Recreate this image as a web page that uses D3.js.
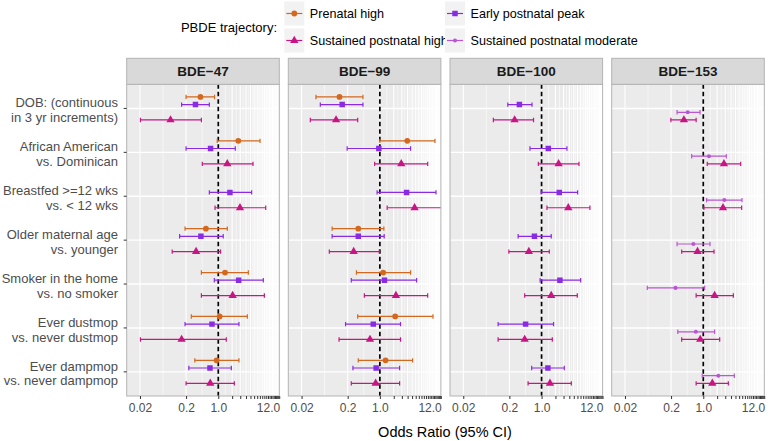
<!DOCTYPE html>
<html><head><meta charset="utf-8">
<script src="https://cdn.jsdelivr.net/npm/d3@7"></script>
<style>body{margin:0;background:#fff}svg{display:block;font-family:"Liberation Sans",Arial,sans-serif}</style>
</head><body><svg id="c" width="768" height="441"></svg>
<script>
const categories = [
  ["DOB: (continuous","in 3 yr increments)"],
  ["African American","vs. Dominican"],
  ["Breastfed >=12 wks","vs. < 12 wks"],
  ["Older maternal age","vs. younger"],
  ["Smoker in the home","vs. no smoker"],
  ["Ever dustmop","vs. never dustmop"],
  ["Ever dampmop","vs. never dampmop"]
];
const panels = ["BDE\u221247","BDE\u221299","BDE\u2212100","BDE\u2212153"];
const seriesNames = ["Prenatal high","Early postnatal peak","Sustained postnatal high","Sustained postnatal moderate"];
const seriesColors = ["#D2691E","#8A2BE2","#C71585","#BA55D3"];
const xBreaks = [0.02,0.2,1,2,3,4,5,6,7,8,9,10,11,12,13,14,15,16,17,18,19,20,21];
const xLabels = {"0.02":"0.02","0.2":"0.2","1":"1.0","12":"12.0"};

// [OR, lower, upper] per category
const bde47_prenatal = [[0.41,0.20,0.83],[2.72,0.95,8.05],null,[0.54,0.19,1.57],[1.40,0.43,4.49],[1.07,0.26,4.27],[0.92,0.31,2.81]];
const bde47_early    = [[0.32,0.16,0.64],[0.68,0.20,2.34],[1.79,0.64,5.3],[0.42,0.145,1.28],[2.77,0.82,9.5],[0.73,0.19,2.81],[0.66,0.23,1.92]];
const bde47_high     = [[0.092,0.0205,0.43],[1.57,0.45,5.67],[2.96,0.85,10.7],[0.33,0.10,1.12],[2.05,0.43,10.0],[0.16,0.0205,1.49],[0.67,0.20,2.23]];
const bde99_prenatal = [[0.133,0.041,0.43],[3.93,1.0,15.7],null,[0.34,0.092,1.22],[1.18,0.31,4.64],[2.15,0.33,14.2],[1.33,0.34,5.13]];
const bde99_early    = [[0.152,0.051,0.43],[0.95,0.195,4.64],[3.8,0.87,16.5],[0.34,0.092,1.24],[1.26,0.24,6.27],[0.72,0.18,2.81],[0.83,0.26,2.68]];
const bde99_high     = [[0.112,0.031,0.33],[2.91,0.77,10.9],[5.67,1.44,25],[0.27,0.08,0.97],[2.23,0.46,10.9],[0.61,0.13,2.81],[0.81,0.24,2.68]];
const bde100_early   = [[0.33,0.185,0.62],[1.40,0.56,3.55],[2.42,0.98,6.06],[0.70,0.31,1.62],[2.5,0.93,7.05],[0.45,0.114,1.82],[1.37,0.61,3.11]];
const bde100_high    = [[0.26,0.09,0.67],[2.34,0.85,6.48],[3.8,1.31,11.2],[0.53,0.195,1.47],[1.62,0.43,5.96],[0.43,0.114,1.71],[1.52,0.51,4.42]];
const bde153_moderate= [[0.46,0.27,0.85],[1.33,0.56,3.16],[2.86,1.18,6.93],[0.61,0.27,1.40],[0.25,0.061,1.07],[0.69,0.28,1.76],[2.12,0.95,4.72]];
const bde153_high    = [[0.38,0.198,0.70],[2.81,1.22,6.48],[2.68,1.03,6.81],[0.75,0.34,1.71],[1.76,0.70,4.49],[0.86,0.34,2.27],[1.57,0.70,3.5]];

const panelData = [
  [[0,bde47_prenatal],[1,bde47_early],[2,bde47_high]],
  [[0,bde99_prenatal],[1,bde99_early],[2,bde99_high]],
  [[1,bde100_early],[2,bde100_high]],
  [[3,bde153_moderate],[2,bde153_high]]
];

const svg = d3.select("#c");
const panelX = [126.7,288.3,450,611.7], panelW = 152.6;
const pTop = 84.3, pBottom = 396, stripTop = 58.3;
const y = d3.scalePoint().domain(d3.range(categories.length)).range([pTop,pBottom]).padding(0.55);
const x = d3.scaleLog().domain([0.0103,21.1]).range([0,panelW]);
const dodge = d3.scalePoint().domain([0,1,3,2]).range([-11.5,11.5]);
const symbols = [d3.symbol(d3.symbolCircle,26), d3.symbol(d3.symbolSquare,30), d3.symbol(d3.symbolTriangle,30), d3.symbol(d3.symbolCircle,13)];

const minor = [];
for (let i=0;i<xBreaks.length-1;i++) minor.push(Math.sqrt(xBreaks[i]*xBreaks[i+1]));

const defs = svg.append("defs");
panels.forEach((p,pi)=>{
  const g = svg.append("g").attr("transform",`translate(${panelX[pi]},0)`);
  defs.append("clipPath").attr("id","clip"+pi).append("rect").attr("x",0).attr("y",pTop).attr("width",panelW).attr("height",pBottom-pTop);
  g.append("rect").attr("x",0).attr("y",pTop).attr("width",panelW).attr("height",pBottom-pTop).attr("fill","#ebebeb");
  const cg = g.append("g").attr("clip-path",`url(#clip${pi})`);
  cg.selectAll(".mn").data(minor.filter(v=>v>x.domain()[0]&&v<x.domain()[1])).enter().append("line")
    .attr("x1",d=>x(d)).attr("x2",d=>x(d)).attr("y1",pTop).attr("y2",pBottom).attr("stroke","#fff").attr("stroke-width",0.55);
  cg.selectAll(".mj").data(xBreaks).enter().append("line")
    .attr("x1",d=>x(d)).attr("x2",d=>x(d)).attr("y1",pTop).attr("y2",pBottom).attr("stroke","#fff").attr("stroke-width",1.1);
  cg.selectAll(".hy").data(d3.range(categories.length)).enter().append("line")
    .attr("x1",0).attr("x2",panelW).attr("y1",d=>y(d)).attr("y2",d=>y(d)).attr("stroke","#fff").attr("stroke-width",1.4);
  cg.append("line").attr("x1",x(1)).attr("x2",x(1)).attr("y1",pTop).attr("y2",pBottom)
    .attr("stroke","#000").attr("stroke-width",1.7).attr("stroke-dasharray","4.5,3");
  panelData[pi].forEach(([si,arr])=>{
    const col = seriesColors[si];
    arr.forEach((d,ci)=>{
      if(!d) return;
      const yy = y(ci)+dodge(si);
      cg.append("line").attr("x1",x(d[1])).attr("x2",x(d[2])).attr("y1",yy).attr("y2",yy).attr("stroke",col).attr("stroke-width",1.2);
      [d[1],d[2]].forEach(v=>cg.append("line").attr("x1",x(v)).attr("x2",x(v)).attr("y1",yy-2.2).attr("y2",yy+2.2).attr("stroke",col).attr("stroke-width",1.2));
      cg.append("path").attr("d",symbols[si]()).attr("transform",`translate(${x(d[0])},${yy})`).attr("fill",col);
    });
  });
  g.append("rect").attr("x",0).attr("y",pTop).attr("width",panelW).attr("height",pBottom-pTop).attr("fill","none").attr("stroke","#b3b3b3").attr("stroke-width",1);
  g.append("rect").attr("x",0).attr("y",stripTop).attr("width",panelW).attr("height",pTop-stripTop).attr("fill","#d9d9d9").attr("stroke","#b3b3b3").attr("stroke-width",1);
  g.append("text").attr("x",panelW/2).attr("y",(stripTop+pTop)/2).attr("dy","0.35em").attr("text-anchor","middle")
    .attr("font-size",13.5).attr("font-weight","bold").attr("fill","#1a1a1a").text(p);
  const ax = g.append("g").attr("transform",`translate(0,${pBottom})`);
  ax.call(d3.axisBottom(x).tickValues(xBreaks).tickSize(3).tickPadding(4).tickFormat(d=>xLabels[String(d)]||""));
  ax.select(".domain").remove();
  ax.selectAll(".tick line").attr("stroke","#333").attr("stroke-width",1);
  ax.selectAll(".tick text").attr("font-size",12).attr("fill","#4d4d4d").attr("font-family","Liberation Sans, Arial, sans-serif");
});

const ya = svg.append("g");
categories.forEach((c,ci)=>{
  ya.append("line").attr("x1",123.7).attr("x2",126.7).attr("y1",y(ci)).attr("y2",y(ci)).attr("stroke","#333");
  const t = ya.append("text").attr("text-anchor","end").attr("font-size",13).attr("fill","#4d4d4d");
  t.append("tspan").attr("x",118).attr("y",y(ci)-5.6).attr("dy","0.35em").text(c[0]);
  t.append("tspan").attr("x",118).attr("y",y(ci)+9).attr("dy","0.35em").text(c[1]);
});

svg.append("text").attr("x",445).attr("y",431.5).attr("dy","0.35em").attr("text-anchor","middle").attr("font-size",14.5).attr("fill","#000").text("Odds Ratio (95% CI)");

const lg = svg.append("g");
lg.append("text").attr("x",277).attr("y",27).attr("dy","0.35em").attr("text-anchor","end").attr("font-size",13).attr("fill","#000").text("PBDE trajectory:");
const legPos = [[284.3,13.5],[445,13.5],[284.3,40.5],[445,40.5]];
const legOrder = [0,1,2,3];
legOrder.forEach((si,i)=>{
  const [lx,ly] = legPos[i];
  lg.append("rect").attr("x",lx).attr("y",ly-12).attr("width",20).attr("height",24).attr("fill","#f2f2f2");
  lg.append("line").attr("x1",lx+2).attr("x2",lx+18).attr("y1",ly).attr("y2",ly).attr("stroke",seriesColors[si]).attr("stroke-width",1.2);
  lg.append("path").attr("d",symbols[si]()).attr("transform",`translate(${lx+10},${ly})`).attr("fill",seriesColors[si]);
  lg.append("text").attr("x",lx+25.5).attr("y",ly).attr("dy","0.35em").attr("font-size",12.6).attr("fill","#000").text(seriesNames[si]);
});
</script></body></html>
